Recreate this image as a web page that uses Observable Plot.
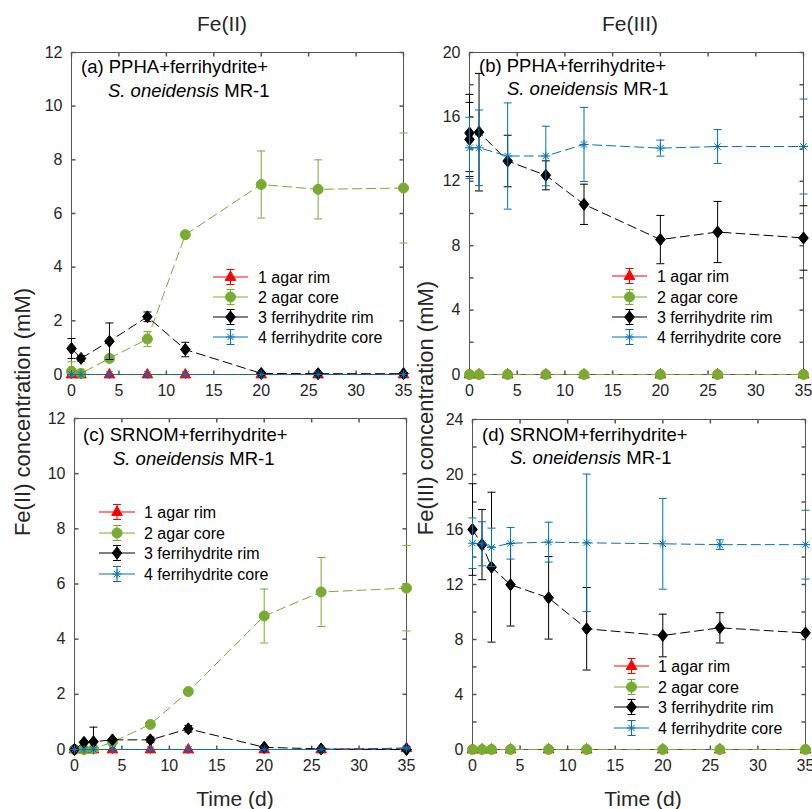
<!DOCTYPE html>
<html><head><meta charset="utf-8">
<script src="https://cdn.jsdelivr.net/npm/d3@7"></script>
<script src="https://cdn.jsdelivr.net/npm/@observablehq/plot@0.6"></script>
<style>
body{margin:0;background:#fff;}
#wrap{position:relative;width:812px;height:809px;overflow:hidden;font-family:"Liberation Sans",Arial,Helvetica,sans-serif;color:#262626;}
.panel{position:absolute;}
#overlay{position:absolute;left:0;top:0;pointer-events:none;}
</style></head><body><div id="wrap"></div>
<script>
// ---------- data ----------
const seriesNames = ["1 agar rim", "2 agar core", "3 ferrihydrite rim", "4 ferrihydrite core"];
const seriesColors = ["#ff0000", "#77ac30", "#000000", "#0072bd"];

const xTicks = [0, 5, 10, 15, 20, 25, 30, 35];
const yTicksFe2 = [0, 2, 4, 6, 8, 10, 12];
const yTicksB = [0, 4, 8, 12, 16, 20];
const yMinorB = [2, 6, 10, 14, 18];
const yTicksD = [0, 4, 8, 12, 16, 20, 24];
const yMinorD = [2, 6, 10, 14, 18, 22];

const columnTitles = ["Fe(II)", "Fe(III)"];
const yLabels = ["Fe(II) concentration (mM)", "Fe(III) concentration (mM)"];
const xLabel = "Time (d)";
const panelLine1 = ["(a) PPHA+ferrihydrite+", "(b) PPHA+ferrihydrite+", "(c) SRNOM+ferrihydrite+", "(d) SRNOM+ferrihydrite+"];
const speciesItalic = "S. oneidensis";
const strainName = " MR-1";

// panel (a) Fe(II), PPHA
const daysA = [0, 1, 4, 8, 12, 20, 26, 35];
const a_rim = [0, 0, 0, 0, 0, 0, 0, 0];
const a_rimErr = [0, 0, 0, 0, 0, 0, 0, 0];
const a_core = [0.12, 0.04, 0.6, 1.32, 5.21, 7.08, 6.9, 6.95];
const a_coreErr = [0.35, 0.05, 0.05, 0.28, 0.08, 1.25, 1.1, 2.05];
const a_fhRim = [0.97, 0.6, 1.24, 2.15, 0.93, 0.04, 0.03, 0.03];
const a_fhRimErr = [0.37, 0.1, 0.68, 0.18, 0.27, 0.03, 0.03, 0.03];
const a_fhCore = [0, 0, 0, 0, 0, 0, 0, 0];
const a_fhCoreErr = [0, 0, 0, 0, 0, 0, 0, 0];

// panel (b) Fe(III), PPHA
const daysB = [0, 1, 4, 8, 12, 20, 26, 35];
const daysB_fhRim = [0, 0, 1, 4, 8, 12, 20, 26, 35];
const b_rim = [0, 0, 0, 0, 0, 0, 0, 0];
const b_rimErr = [0, 0, 0, 0, 0, 0, 0, 0];
const b_core = [0, 0, 0, 0, 0, 0, 0, 0];
const b_coreErr = [0, 0, 0, 0, 0, 0, 0, 0];
const b_fhRim = [15.0, 14.6, 15.05, 13.26, 12.37, 10.57, 8.38, 8.85, 8.48];
const b_fhRimErr = [2.4, 2.3, 3.65, 1.6, 0.9, 1.25, 1.5, 1.9, 2.0];
const b_fhCore = [14.08, 14.08, 13.57, 13.57, 14.29, 14.06, 14.16, 14.16];
const b_fhCoreErr = [1.9, 2.35, 3.3, 1.85, 2.3, 0.5, 1.05, 2.95];

// panel (c) Fe(II), SRNOM
const daysC = [0, 1, 2, 4, 8, 12, 20, 26, 35];
const c_rim = [0, 0, 0, 0, 0, 0, 0, 0, 0.05];
const c_rimErr = [0, 0, 0, 0, 0, 0, 0, 0, 0.05];
const c_core = [0, 0, 0.02, 0.27, 0.91, 2.1, 4.84, 5.71, 5.85];
const c_coreErr = [0, 0, 0, 0.03, 0.05, 0.05, 0.98, 1.25, 1.55];
const c_fhRim = [0, 0.26, 0.28, 0.35, 0.35, 0.75, 0.08, 0.02, 0];
const c_fhRimErr = [0.05, 0.05, 0.53, 0.05, 0.1, 0.12, 0.03, 0.02, 0.02];
const c_fhCore = [0, 0, 0, 0, 0, 0, 0, 0, 0.05];
const c_fhCoreErr = [0, 0, 0, 0, 0, 0, 0, 0, 0.03];

// panel (d) Fe(III), SRNOM
const daysD = [0, 1, 2, 4, 8, 12, 20, 26, 35];
const d_rim = [0, 0, 0, 0, 0, 0, 0, 0, 0];
const d_rimErr = [0, 0, 0, 0, 0, 0, 0, 0, 0];
const d_core = [0, 0, 0, 0, 0, 0, 0, 0, 0];
const d_coreErr = [0, 0, 0, 0, 0, 0, 0, 0, 0];
const d_fhRim = [16.0, 14.9, 13.26, 11.98, 11.03, 8.78, 8.29, 8.85, 8.48];
const d_fhRimErr = [3.33, 2.55, 5.45, 3.0, 3.0, 3.0, 1.55, 1.1, 0];
const d_fhCore = [15.0, 14.96, 14.7, 15.0, 15.08, 15.03, 14.96, 14.9, 14.9];
const d_fhCoreErr = [1.84, 1.6, 1.4, 1.15, 1.45, 5.0, 3.3, 0.35, 2.5];

// ---------- symbols ----------
const capSym = {draw(c){c.moveTo(-4,0);c.lineTo(4,0);}};
const triSym = {draw(c){c.moveTo(0,-6);c.lineTo(5.3,3.4);c.lineTo(-5.3,3.4);c.closePath();}};
const circSym = {draw(c){c.moveTo(5,0);c.arc(0,0,5,0,2*Math.PI);c.closePath();}};
const diaSym = {draw(c){c.moveTo(0,-6);c.lineTo(4.8,0);c.lineTo(0,6);c.lineTo(-4.8,0);c.closePath();}};
const astSym = {draw(c){const r=4.5,q=3.2;c.moveTo(0,-r);c.lineTo(0,r);c.moveTo(-r,0);c.lineTo(r,0);c.moveTo(-q,-q);c.lineTo(q,q);c.moveTo(-q,q);c.lineTo(q,-q);}};
const tickUp = {draw(c){c.moveTo(0,0);c.lineTo(0,-4);}};
const tickDown = {draw(c){c.moveTo(0,0);c.lineTo(0,4);}};
const tickRight = {draw(c){c.moveTo(0,0);c.lineTo(4,0);}};
const tickLeft = {draw(c){c.moveTo(0,0);c.lineTo(-4,0);}};
const seriesSymbols = [triSym, circSym, diaSym, astSym];
const seriesFills = ["#ff0000", "#77ac30", "#000000", "none"];

const axisColor = "#555";
const textColor = "#262626";
const fontFamily = "'Liberation Sans', Arial, Helvetica, sans-serif";

function rows(days, vals, errs){ return days.map((t,i)=>({t, v: vals[i], e: errs[i]})); }

const panels = [
  {left:0, top:40, width:410, height:370, mL:71, mR:7, mT:12, mB:36, yMax:12, yTicks:yTicksFe2, yMinor:[],
   series:[rows(daysA,a_rim,a_rimErr), rows(daysA,a_core,a_coreErr), rows(daysA,a_fhRim,a_fhRimErr), rows(daysA,a_fhCore,a_fhCoreErr)]},
  {left:410, top:40, width:402, height:370, mL:59, mR:9, mT:12, mB:36, yMax:20, yTicks:yTicksB, yMinor:yMinorB,
   series:[rows(daysB,b_rim,b_rimErr), rows(daysB,b_core,b_coreErr), rows(daysB_fhRim,b_fhRim,b_fhRimErr), rows(daysB,b_fhCore,b_fhCoreErr)]},
  {left:0, top:400, width:410, height:380, mL:74, mR:4, mT:18, mB:31, yMax:12, yTicks:yTicksFe2, yMinor:[],
   series:[rows(daysC,c_rim,c_rimErr), rows(daysC,c_core,c_coreErr), rows(daysC,c_fhRim,c_fhRimErr), rows(daysC,c_fhCore,c_fhCoreErr)]},
  {left:410, top:400, width:402, height:380, mL:62, mR:7, mT:19, mB:31, yMax:24, yTicks:yTicksD, yMinor:yMinorD,
   series:[rows(daysD,d_rim,d_rimErr), rows(daysD,d_core,d_coreErr), rows(daysD,d_fhRim,d_fhRimErr), rows(daysD,d_fhCore,d_fhCoreErr)]}
];

const wrap = document.getElementById("wrap");

panels.forEach(p => {
  const yAllTicks = p.yTicks.concat(p.yMinor);
  const marks = [
    Plot.frame({stroke: axisColor, strokeWidth: 1}),
    Plot.axisX(xTicks, {anchor:"bottom", tickSize:0, tickPadding:10, label:null, fill:textColor, fontSize:16}),
    Plot.axisY(p.yTicks, {anchor:"left", tickSize:0, tickPadding:9, label:null, fill:textColor, fontSize:16}),
    Plot.dot(xTicks, {x:d=>d, frameAnchor:"bottom", symbol:tickUp, stroke:axisColor, fill:"none"}),
    Plot.dot(xTicks, {x:d=>d, frameAnchor:"top", symbol:tickDown, stroke:axisColor, fill:"none"}),
    Plot.dot(yAllTicks, {y:d=>d, frameAnchor:"left", symbol:tickRight, stroke:axisColor, fill:"none"}),
    Plot.dot(yAllTicks, {y:d=>d, frameAnchor:"right", symbol:tickLeft, stroke:axisColor, fill:"none"})
  ];
  p.series.forEach((data, i) => {
    const col = seriesColors[i];
    const withErr = data.filter(d => d.e > 0);
    marks.push(
      Plot.ruleX(withErr, {x:"t", y1:d=>d.v-d.e, y2:d=>d.v+d.e, stroke:col, strokeWidth:1, clip:true}),
      Plot.dot(withErr.filter(d => d.v + d.e <= p.yMax), {x:"t", y:d=>d.v+d.e, symbol:capSym, stroke:col, fill:"none", strokeWidth:1}),
      Plot.dot(withErr.filter(d => d.v - d.e >= 0), {x:"t", y:d=>d.v-d.e, symbol:capSym, stroke:col, fill:"none", strokeWidth:1}),
      Plot.line(data, {x:"t", y:"v", stroke:col, strokeWidth:1, strokeDasharray:"9,5"}),
      Plot.dot(data, {x:"t", y:"v", symbol:seriesSymbols[i], fill:seriesFills[i], stroke:col, strokeWidth:1})
    );
  });
  const chart = Plot.plot({
    width:p.width, height:p.height,
    marginLeft:p.mL, marginRight:p.mR, marginTop:p.mT, marginBottom:p.mB,
    x:{domain:[0,35]},
    y:{domain:[0,p.yMax]},
    style:{fontFamily, fontSize:"16px", color:textColor, background:"transparent", overflow:"visible"},
    marks
  });
  chart.classList.add("panel");
  chart.style.left = p.left + "px";
  chart.style.top = p.top + "px";
  wrap.appendChild(chart);
});

// ---------- overlay text & legends ----------
const svg = d3.select(wrap).append("svg").attr("id","overlay")
  .attr("width",812).attr("height",809)
  .style("font-family", fontFamily).style("overflow","visible");

const titlePos = [[222,31],[630,31]];
columnTitles.forEach((t,i)=> svg.append("text").attr("x",titlePos[i][0]).attr("y",titlePos[i][1])
  .attr("text-anchor","middle").attr("font-size",21).attr("fill",textColor).text(t));

const xLabelPos = [[235,806],[643,806]];
xLabelPos.forEach(([x,y]) => svg.append("text").attr("x",x).attr("y",y)
  .attr("text-anchor","middle").attr("font-size",21).attr("fill",textColor).text(xLabel));

const yLabelPos = [[22,412],[425,408]];
yLabels.forEach((t,i)=> svg.append("text")
  .attr("transform",`translate(${yLabelPos[i][0]},${yLabelPos[i][1]}) rotate(-90)`)
  .attr("text-anchor","middle").attr("dy","0.35em").attr("font-size",22).attr("fill",textColor).text(t));

const annPos = [
  {x1:81, y1:73, x2:108, y2:97},
  {x1:479, y1:72, x2:507, y2:95},
  {x1:83, y1:440.5, x2:113, y2:465},
  {x1:482, y1:440.5, x2:510, y2:464}
];
annPos.forEach((a,i)=>{
  svg.append("text").attr("x",a.x1).attr("y",a.y1).attr("font-size",18.5).attr("fill","#000").text(panelLine1[i]);
  const t2 = svg.append("text").attr("x",a.x2).attr("y",a.y2).attr("font-size",18.5).attr("fill","#000");
  t2.append("tspan").attr("font-style","italic").text(speciesItalic);
  t2.append("tspan").text(strainName);
});

const legendPos = [
  {x0:213, x1:248, tx:258, ys:[277,297,317,337]},
  {x0:612, x1:647, tx:657, ys:[276,297,317,337]},
  {x0:99, x1:135, tx:144, ys:[512,533,553,574]},
  {x0:614, x1:649, tx:658, ys:[666,687,707,728]}
];
legendPos.forEach(L => {
  const cx = (L.x0 + L.x1)/2;
  seriesNames.forEach((name,i) => {
    const y = L.ys[i], col = seriesColors[i];
    const g = svg.append("g");
    g.append("line").attr("x1",L.x0).attr("x2",L.x1).attr("y1",y).attr("y2",y).attr("stroke",col).attr("stroke-width",1);
    g.append("line").attr("x1",cx).attr("x2",cx).attr("y1",y-7.5).attr("y2",y+7.5).attr("stroke",col).attr("stroke-width",1);
    [y-7.5,y+7.5].forEach(yy => g.append("path").attr("transform",`translate(${cx},${yy})`)
      .attr("d", d3.symbol().type(capSym)()).attr("stroke",col).attr("fill","none"));
    g.append("path").attr("transform",`translate(${cx},${y})`)
      .attr("d", d3.symbol().type(seriesSymbols[i])())
      .attr("fill",seriesFills[i]).attr("stroke",col).attr("stroke-width",1);
    g.append("text").attr("x",L.tx).attr("y",y).attr("dy","0.35em").attr("font-size",16).attr("fill","#000").text(name);
  });
});
</script></body></html>
